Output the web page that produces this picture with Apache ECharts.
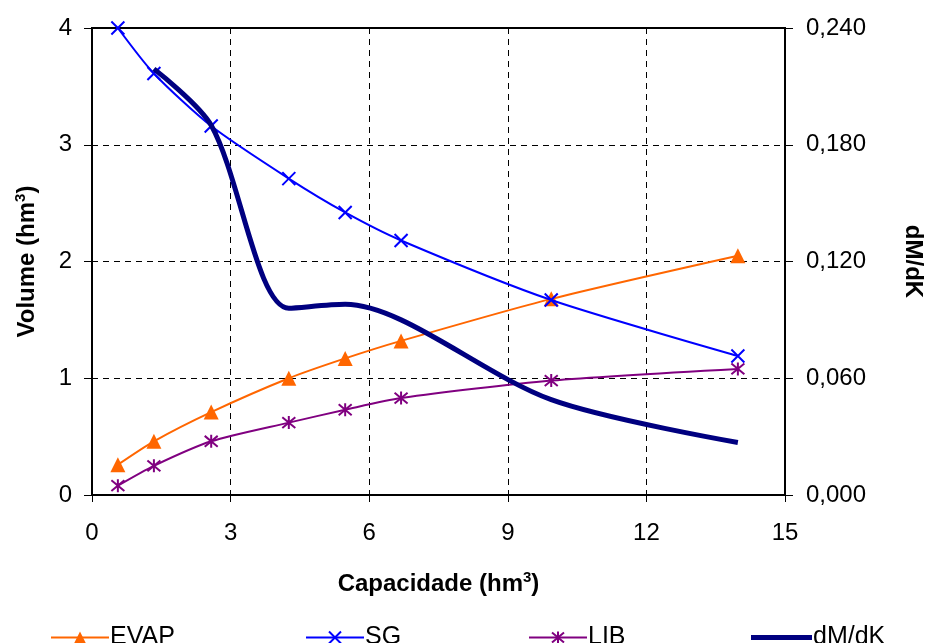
<!DOCTYPE html>
<html>
<head>
<meta charset="utf-8">
<script src="https://cdn.jsdelivr.net/npm/echarts@6/dist/echarts.min.js"></script>
<style>html,body{margin:0;padding:0;background:#fff}#c{width:926px;height:643px}</style>
</head>
<body>
<div id="c"></div>
<script>
var capacidade = [0.56, 1.34, 2.58, 4.26, 5.48, 6.69, 9.94, 13.98];
var evap = [0.26, 0.46, 0.71, 1.00, 1.17, 1.32, 1.68, 2.05];
var sg = [4.00, 3.61, 3.16, 2.71, 2.42, 2.18, 1.67, 1.19];
var lib = [0.08, 0.25, 0.46, 0.62, 0.73, 0.83, 0.98, 1.08];
var dmdkCap = [1.34, 2.58, 4.26, 5.48, 6.69, 9.94, 13.98];
var dmdk = [0.219, 0.190, 0.096, 0.098, 0.090, 0.049, 0.027];
var xTicks = [0, 3, 6, 9, 12, 15];
var yLeftTicks = [0, 1, 2, 3, 4];
var yRightTicks = ['0,000', '0,060', '0,120', '0,180', '0,240'];

function pairs(xs, ys) { return xs.map(function (x, i) { return [x, ys[i]]; }); }

var FONT = 'Liberation Sans, Arial, sans-serif';
var crossPath = 'path://M0,0L10,10M10,0L0,10';
var starPath = 'path://M0,0L10,10M10,0L0,10M5,-1L5,11';
var rich = { b: { fontFamily: FONT, fontWeight: 'bold', fontSize: 24, color: '#000' }, sup: { fontFamily: FONT, fontWeight: 'bold', fontSize: 15, color: '#000', verticalAlign: 'top', padding: [0, 0, 14, 0] } };
var LBL = 24;

var chart = echarts.init(document.getElementById('c'), null, { renderer: 'canvas' });
var legendBase = { top: 620, itemWidth: 58, itemHeight: 15, itemGap: 0, textStyle: { fontFamily: FONT, fontSize: 25, color: '#000', padding: [0, 0, 0, -4] } };
chart.setOption({
  animation: false,
  backgroundColor: '#fff',
  grid: { left: 92, right: 141, top: 28, bottom: 148, outerBoundsMode: 'none', containLabel: false, show: true, borderColor: '#000', borderWidth: 2, backgroundColor: 'transparent' },
  xAxis: {
    type: 'value', min: 0, max: 15, interval: 3,
    name: '{b|Capacidade (hm}{sup|3}{b|)}', nameLocation: 'middle', nameGap: 75,
    nameTextStyle: { rich: rich },
    axisLine: { show: true, lineStyle: { color: '#000', width: 2 } },
    axisTick: { show: true, length: 7, lineStyle: { color: '#000', width: 1 } },
    axisLabel: { fontFamily: FONT, fontSize: LBL, color: '#000', margin: 26, formatter: function (v) { return xTicks.indexOf(v) >= 0 ? String(v) : ''; } },
    splitLine: { show: true, lineStyle: { color: '#000', type: [6, 5], width: 1 } }
  },
  yAxis: [{
    type: 'value', min: 0, max: 4, interval: 1, position: 'left',
    name: '{b|Volume (hm}{sup|3}{b|)}', nameLocation: 'middle', nameGap: 50, nameRotate: 90,
    nameTextStyle: { rich: rich },
    axisLine: { show: true, lineStyle: { color: '#000', width: 2 } },
    axisTick: { show: true, length: 8, lineStyle: { color: '#000', width: 1 } },
    axisLabel: { fontFamily: FONT, fontSize: LBL, color: '#000', margin: 20, formatter: function (v) { return yLeftTicks.indexOf(v) >= 0 ? String(v) : ''; } },
    splitLine: { show: true, lineStyle: { color: '#000', type: [6, 5], width: 1 } }
  }, {
    type: 'value', min: 0, max: 0.24, interval: 0.06, position: 'right',
    name: 'dM/dK', nameLocation: 'middle', nameGap: 116, nameRotate: -90,
    nameTextStyle: { fontFamily: FONT, fontWeight: 'bold', fontSize: 24, color: '#000' },
    axisLine: { show: true, lineStyle: { color: '#000', width: 2 } },
    axisTick: { show: true, length: 8, lineStyle: { color: '#000', width: 1 } },
    axisLabel: { fontFamily: FONT, fontSize: LBL, color: '#000', margin: 21, formatter: function (v) { return yRightTicks[Math.round(v / 0.06)]; } },
    splitLine: { show: false }
  }],
  legend: [
    Object.assign({ left: 45, data: ['EVAP'] }, legendBase),
    Object.assign({ left: 300, data: ['SG'] }, legendBase),
    Object.assign({ left: 523, data: ['LIB'] }, legendBase),
    Object.assign({}, legendBase, { left: 746, top: 620, itemWidth: 61, itemHeight: 5, data: [{ name: 'dM/dK', icon: 'rect' }] })
  ],
  series: [{
    name: 'EVAP', type: 'line', yAxisIndex: 0, data: pairs(capacidade, evap), smooth: 0.25,
    symbol: 'triangle', symbolSize: 15, lineStyle: { color: '#FF6600', width: 2 },
    itemStyle: { color: '#FF6600' }, z: 3
  }, {
    name: 'SG', type: 'line', yAxisIndex: 0, data: pairs(capacidade, sg), smooth: 0.25,
    symbol: crossPath, symbolSize: 13, lineStyle: { color: '#0000FF', width: 2 },
    itemStyle: { color: '#0000FF', borderColor: '#0000FF', borderWidth: 2 }, z: 4
  }, {
    name: 'LIB', type: 'line', yAxisIndex: 0, data: pairs(capacidade, lib), smooth: 0.25,
    symbol: starPath, symbolSize: 13, lineStyle: { color: '#800080', width: 2 },
    itemStyle: { color: '#800080', borderColor: '#800080', borderWidth: 2 }, z: 3
  }, {
    name: 'dM/dK', type: 'line', yAxisIndex: 1, data: pairs(dmdkCap, dmdk), smooth: 0.3,
    symbol: 'none', showSymbol: false, lineStyle: { color: '#000080', width: 5 },
    itemStyle: { color: '#000080' }, z: 5
  }]
});
</script>
</body>
</html>
